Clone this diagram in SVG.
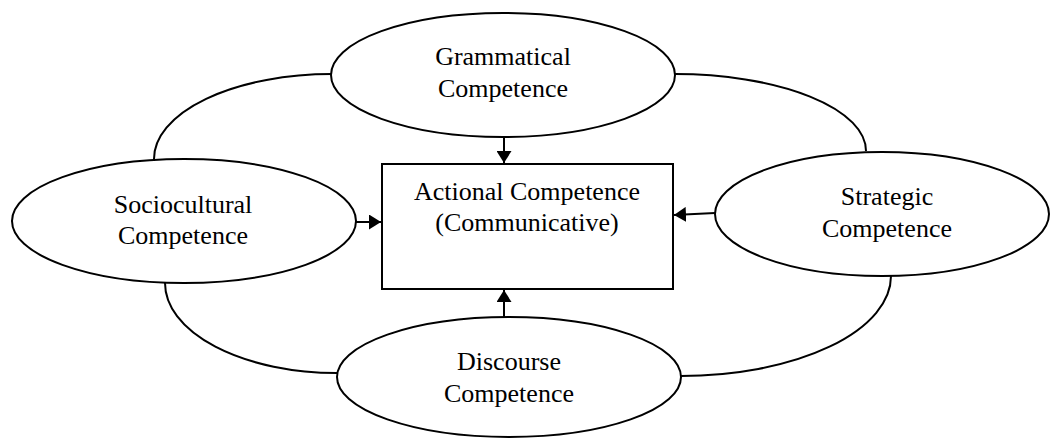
<svg xmlns="http://www.w3.org/2000/svg" width="1051" height="438" viewBox="0 0 1051 438">
<style>
.shape{fill:#fff;stroke:#000;stroke-width:2}
.conn{fill:none;stroke:#000;stroke-width:2}
text{font-family:"Liberation Serif","Times New Roman",serif;font-size:26px;fill:#000;text-anchor:middle}
</style>
<defs>
<marker id="arr" viewBox="0 0 12 15" refX="12" refY="7.5" markerWidth="12" markerHeight="15" markerUnits="userSpaceOnUse" orient="auto">
<path d="M0,0 L12,7.5 L0,15 Z" fill="#000"/>
</marker>
</defs>
<rect width="1051" height="438" fill="#fff"/>
<g id="connectors">
<path class="conn" d="M154,159 A178 85 0 0 1 332,74"/>
<path class="conn" d="M675,74 A191 77 0 0 1 866,151"/>
<path class="conn" d="M165,283 A172 90 0 0 0 337,373"/>
<path class="conn" d="M891,276 A210 100 0 0 1 681,376"/>
<line class="conn" x1="504" y1="137" x2="504" y2="163" marker-end="url(#arr)"/>
<line class="conn" x1="504" y1="317" x2="504" y2="290" marker-end="url(#arr)"/>
<line class="conn" x1="356" y1="222" x2="381" y2="222" marker-end="url(#arr)"/>
<line class="conn" x1="715" y1="213" x2="674" y2="215" marker-end="url(#arr)"/>
</g>
<g id="actional">
<rect class="shape" x="382" y="164" width="291" height="125"/>
<text x="527" y="200">Actional Competence</text>
<text x="527" y="231">(Communicative)</text>
</g>
<g id="grammatical">
<ellipse class="shape" cx="503" cy="75" rx="172" ry="62"/>
<text x="503" y="65">Grammatical</text>
<text x="503" y="97">Competence</text>
</g>
<g id="sociocultural">
<ellipse class="shape" cx="184" cy="221" rx="172" ry="62"/>
<text x="183" y="213">Sociocultural</text>
<text x="183" y="244">Competence</text>
</g>
<g id="strategic">
<ellipse class="shape" cx="882" cy="214" rx="167" ry="62"/>
<text x="887" y="205">Strategic</text>
<text x="887" y="237">Competence</text>
</g>
<g id="discourse">
<ellipse class="shape" cx="509" cy="377" rx="172" ry="60"/>
<text x="509" y="370">Discourse</text>
<text x="509" y="402">Competence</text>
</g>
</svg>
